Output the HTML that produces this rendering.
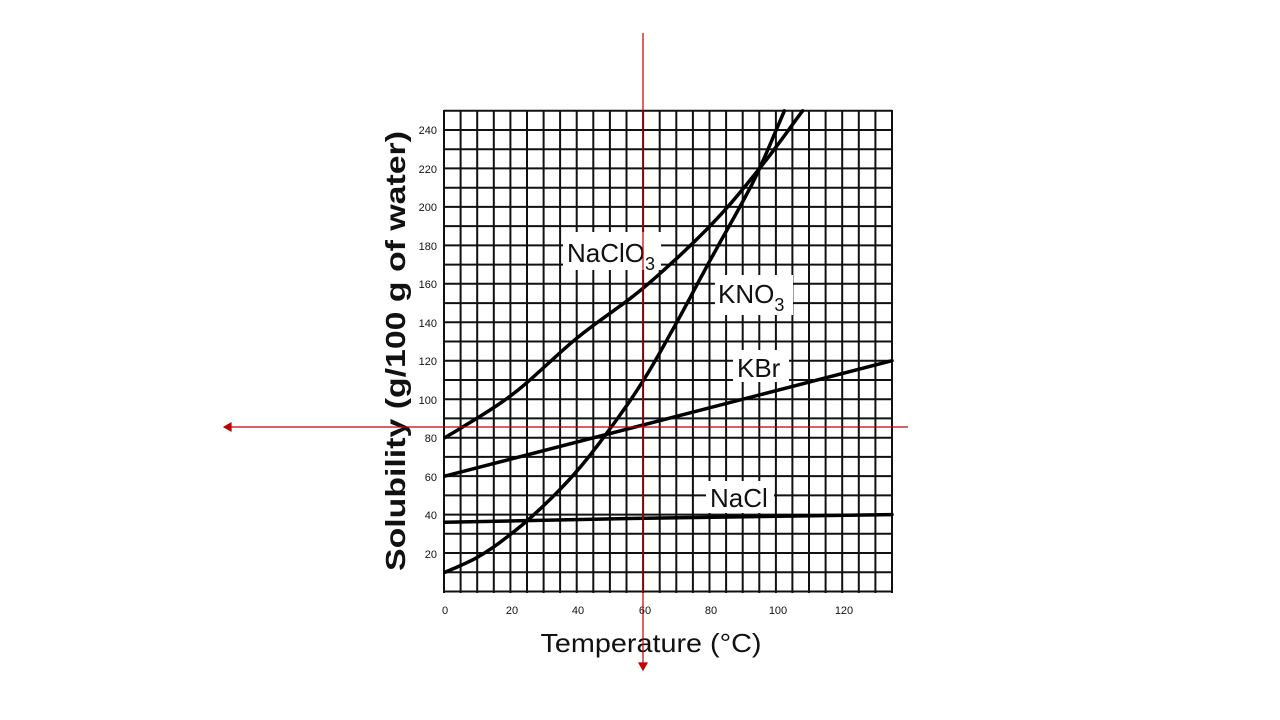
<!DOCTYPE html>
<html><head><meta charset="utf-8"><style>
html,body{margin:0;padding:0;background:#fff;width:1280px;height:720px;overflow:hidden}
svg{display:block}
text{font-family:"Liberation Sans",Arial,sans-serif;fill:#111}
</style></head><body>
<svg id="s" width="1280" height="720" viewBox="0 0 1280 720" xmlns="http://www.w3.org/2000/svg">
<g id="grid" stroke="#111" stroke-width="2"></g>
<g id="curves" fill="none" stroke="#000" stroke-width="3.5" stroke-linecap="round"></g>
<g id="labels"></g>
<g font-size="11">
<text x="437" y="134" text-anchor="end">240</text>
<text x="437" y="173" text-anchor="end">220</text>
<text x="437" y="211" text-anchor="end">200</text>
<text x="437" y="250" text-anchor="end">180</text>
<text x="437" y="288" text-anchor="end">160</text>
<text x="437" y="327" text-anchor="end">140</text>
<text x="437" y="365" text-anchor="end">120</text>
<text x="437" y="404" text-anchor="end">100</text>
<text x="437" y="442" text-anchor="end">80</text>
<text x="437" y="481" text-anchor="end">60</text>
<text x="437" y="519" text-anchor="end">40</text>
<text x="437" y="558" text-anchor="end">20</text>
<text x="445" y="614" text-anchor="middle">0</text>
<text x="512" y="614" text-anchor="middle">20</text>
<text x="578" y="614" text-anchor="middle">40</text>
<text x="645" y="614" text-anchor="middle">60</text>
<text x="711" y="614" text-anchor="middle">80</text>
<text x="778" y="614" text-anchor="middle">100</text>
<text x="844" y="614" text-anchor="middle">120</text>
</g>
<text x="651" y="652" font-size="26" text-anchor="middle" textLength="221" lengthAdjust="spacingAndGlyphs">Temperature (°C)</text>
<text transform="translate(405,351) rotate(-90)" font-size="28" font-weight="bold" text-anchor="middle" textLength="440" lengthAdjust="spacingAndGlyphs">Solubility (g/100 g of water)</text>
<g stroke="#c00000" stroke-width="1.2" fill="#c00000">
<line x1="643" y1="33" x2="643" y2="664"/>
<polygon points="639,663 647,663 643,670"/>
<line x1="230" y1="427" x2="908" y2="427"/>
<polygon points="231,423 231,431 224,427"/>
</g>
</svg>
<script>
const X=u=>445+u*3.311, Y=v=>591.5-v*1.923;
const g=document.getElementById('grid');let h='';
for(let i=0;i<=27;i++){const x=(444+i*(448/27)).toFixed(1);h+=`<line x1="${x}" y1="110" x2="${x}" y2="593"/>`;}
for(let v=0;v<=250;v+=10){const y=Y(v).toFixed(1);h+=`<line x1="444" y1="${y}" x2="892" y2="${y}"/>`;}
g.innerHTML=h;
function path(pts){return 'M'+pts.map(p=>X(p[0]).toFixed(1)+','+Y(p[1]).toFixed(1)).join(' L');}
function smooth(pts){let r=[];for(let i=0;i<pts.length-1;i++){const p0=pts[Math.max(0,i-1)],p1=pts[i],p2=pts[i+1],p3=pts[Math.min(pts.length-1,i+2)];for(let t=0;t<1;t+=0.1){const t2=t*t,t3=t2*t;const f=(a,b,c,d)=>0.5*((2*b)+(-a+c)*t+(2*a-5*b+4*c-d)*t2+(-a+3*b-3*c+d)*t3);r.push([f(p0[0],p1[0],p2[0],p3[0]),f(p0[1],p1[1],p2[1],p3[1])]);}}r.push(pts[pts.length-1]);return r;}
const c=document.getElementById('curves');
c.innerHTML=
`<path d="${path(smooth([[0,80],[20,102],[40,132],[60,158],[80,190],[95,220],[108,250]]))}"/>`+
`<path d="${path(smooth([[0,10],[10,18],[20,30],[30,45],[40,63],[50,85],[60,110],[70,140],[80,172],[90,203],[95,220],[102.5,250]]))}"/>`+
`<path d="${path([[0,60],[135,120]])}"/>`+
`<path d="${path([[0,36],[58,38],[135,40]])}"/>`;
const L=document.getElementById('labels');
L.innerHTML=
`<rect x="563" y="232" width="98" height="38" fill="#fff"/><text x="567" y="262" font-size="26">NaClO<tspan font-size="18" dy="8">3</tspan></text>`+
`<rect x="715" y="275" width="78" height="40" fill="#fff"/><text x="718" y="303" font-size="26">KNO<tspan font-size="18" dy="8">3</tspan></text>`+
`<rect x="733" y="350" width="56" height="32" fill="#fff"/><text x="737" y="377" font-size="26">KBr</text>`+
`<rect x="706" y="481" width="68" height="32" fill="#fff"/><text x="710" y="507" font-size="26">NaCl</text>`;
</script>
</body></html>
